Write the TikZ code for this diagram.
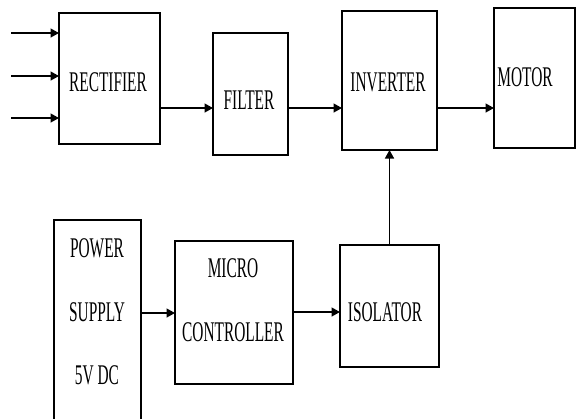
\documentclass[tikz,border=0pt]{standalone}
\usepackage{fontspec}
\setmainfont{Liberation Serif}
\usepackage{graphicx}
\usetikzlibrary{arrows.meta}
\newcommand\narrowtxt[1]{\scalebox{0.54}[1]{\fontsize{28.5}{30}\selectfont #1}}
\tikzset{
  blockbox/.style={draw=black, line width=1.4pt, inner sep=0pt, outer sep=0pt, fill=none},
  lbl/.style={inner sep=0pt, text=black},
  arr/.style={line width=1.4pt, -{Triangle[length=8.5pt,width=9pt]}},
  plainline/.style={line width=1.4pt}
}
\begin{document}
\begin{tikzpicture}[x=1pt,y=-1pt]
\useasboundingbox (0,0) rectangle (576,418);
\fill[white] (0,0) rectangle (576,418);
\begin{scope}
\clip (0,0) rectangle (576,418);
% boxes
\node[blockbox, minimum width=101pt, minimum height=131pt] (rect) at (109.5,78.5) {};
\node[blockbox, minimum width=75pt, minimum height=122pt] (filt) at (250.5,94) {};
\node[blockbox, minimum width=95pt, minimum height=139pt] (inv) at (389.5,80.5) {};
\node[blockbox, minimum width=81pt, minimum height=140pt] (mot) at (534.5,78) {};
\node[blockbox, minimum width=87pt, minimum height=220pt] (pow) at (97.5,330) {};
\node[blockbox, minimum width=118pt, minimum height=143pt] (mcu) at (234,312.5) {};
\node[blockbox, minimum width=99pt, minimum height=122pt] (iso) at (389.5,306) {};
% labels
\node[lbl] (trect) at (108,82) {\narrowtxt{RECTIFIER}};
\node[lbl] (tfilt) at (249,100) {\narrowtxt{FILTER}};
\node[lbl] (tinv) at (388,82) {\narrowtxt{INVERTER}};
\node[lbl] (tmot) at (525,77) {\narrowtxt{MOTOR}};
\node[lbl] (tpow1) at (97,248) {\narrowtxt{POWER}};
\node[lbl] (tpow2) at (97,312) {\narrowtxt{SUPPLY}};
\node[lbl] (tpow3) at (97,375) {\narrowtxt{5V DC}};
\node[lbl] (tmcu1) at (233,268) {\narrowtxt{MICRO}};
\node[lbl] (tmcu2) at (233,332) {\narrowtxt{CONTROLLER}};
\node[lbl] (tiso) at (385,312) {\narrowtxt{ISOLATOR}};
% connector points
\coordinate (in1) at (11,33);
\coordinate (in2) at (11,76);
\coordinate (in3) at (11,118);
\coordinate (row1) at (0,108);
\coordinate (row2) at (0,313);
\coordinate (row3) at (0,312);
% connectors
\draw[arr] (in1) -- (in1 -| rect.west);
\draw[arr] (in2) -- (in2 -| rect.west);
\draw[arr] (in3) -- (in3 -| rect.west);
\draw[arr] (row1 -| rect.east) -- (row1 -| filt.west);
\draw[arr] (row1 -| filt.east) -- (row1 -| inv.west);
\draw[arr] (row1 -| inv.east) -- (row1 -| mot.west);
\draw[arr] (row2 -| pow.east) -- (row2 -| mcu.west);
\draw[arr] (row3 -| mcu.east) -- (row3 -| iso.west);
\draw[arr] (iso.north) -- (inv.south);
\end{scope}
\end{tikzpicture}
\end{document}
